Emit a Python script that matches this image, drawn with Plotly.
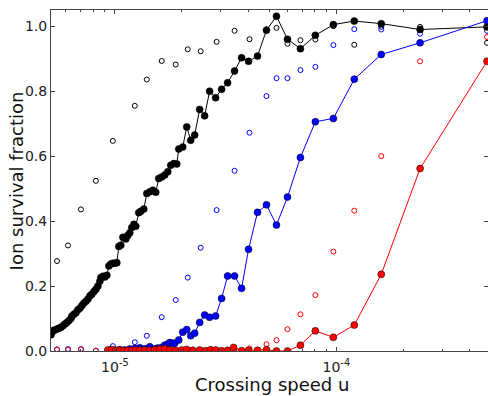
import plotly.graph_objects as go

# ---- data ----
# filled series (lines + markers)
u_black = [5.149e-6, 5.202e-6, 5.256e-6, 5.368e-6, 5.480e-6, 5.595e-6, 5.713e-6, 5.832e-6,
           5.954e-6, 6.079e-6, 6.207e-6, 6.337e-6, 6.403e-6, 6.537e-6, 6.674e-6, 6.814e-6,
           6.957e-6, 7.104e-6, 7.252e-6, 7.404e-6, 7.559e-6, 7.718e-6, 7.879e-6, 8.044e-6,
           8.213e-6, 8.385e-6, 8.561e-6, 8.650e-6, 8.831e-6, 9.016e-6, 9.204e-6, 9.397e-6,
           9.594e-6, 9.795e-6, 1.000e-5, 1.021e-5, 1.042e-5, 1.064e-5, 1.087e-5, 1.121e-5,
           1.144e-5, 1.168e-5, 1.193e-5, 1.218e-5, 1.243e-5, 1.282e-5, 1.309e-5, 1.351e-5,
           1.394e-5, 1.438e-5, 1.483e-5, 1.530e-5, 1.578e-5, 1.628e-5, 1.680e-5, 1.733e-5,
           1.788e-5, 1.844e-5, 1.903e-5, 1.943e-5, 2.025e-5, 2.111e-5, 2.200e-5, 2.293e-5,
           2.415e-5, 2.543e-5, 2.678e-5, 2.851e-5, 3.034e-5, 3.229e-5, 3.471e-5, 3.734e-5,
           4.014e-5, 4.406e-5, 4.837e-5, 5.367e-5, 6.017e-5, 6.883e-5, 8.041e-5, 9.694e-5,
           1.205e-4, 1.595e-4, 2.389e-4, 4.789e-4]
y_black = [0.050, 0.058, 0.063, 0.065, 0.068, 0.070, 0.073, 0.078,
           0.083, 0.088, 0.094, 0.100, 0.108, 0.113, 0.118, 0.127,
           0.132, 0.140, 0.148, 0.153, 0.160, 0.170, 0.175, 0.183,
           0.190, 0.200, 0.215, 0.226, 0.230, 0.228, 0.233, 0.262,
           0.268, 0.270, 0.270, 0.272, 0.322, 0.326, 0.350, 0.345,
           0.356, 0.364, 0.380, 0.390, 0.384, 0.426, 0.430, 0.437,
           0.485, 0.490, 0.495, 0.489, 0.531, 0.536, 0.542, 0.552,
           0.572, 0.577, 0.576, 0.622, 0.628, 0.690, 0.649, 0.665,
           0.744, 0.724, 0.800, 0.780, 0.806, 0.826, 0.862, 0.903,
           0.892, 0.908, 0.988, 1.031, 0.960, 0.931, 0.972, 1.005,
           1.016, 1.008, 0.990, 0.998]

u_blue = [9.495e-6, 1.000e-5, 1.053e-5, 1.109e-5, 1.168e-5, 1.230e-5, 1.296e-5, 1.365e-5,
          1.438e-5, 1.514e-5, 1.562e-5, 1.628e-5, 1.680e-5, 1.733e-5, 1.769e-5, 1.825e-5,
          1.864e-5, 1.943e-5, 2.025e-5, 2.111e-5, 2.200e-5, 2.293e-5, 2.415e-5, 2.543e-5,
          2.678e-5, 2.851e-5, 3.034e-5, 3.229e-5, 3.471e-5, 3.734e-5, 4.014e-5, 4.406e-5,
          4.837e-5, 5.367e-5, 6.017e-5, 6.883e-5, 8.041e-5, 9.694e-5, 1.205e-4, 1.595e-4,
          2.389e-4, 4.789e-4]
y_blue = [0.003, 0.002, 0.004, 0.003, 0.006, 0.008, 0.010, 0.007,
          0.013, 0.006, 0.009, 0.011, 0.018, 0.021, 0.026, 0.024,
          0.024, 0.034, 0.058, 0.066, 0.047, 0.055, 0.088, 0.111,
          0.104, 0.108, 0.162, 0.231, 0.231, 0.193, 0.313, 0.427,
          0.450, 0.388, 0.474, 0.596, 0.706, 0.716, 0.837, 0.913,
          0.949, 1.017]

u_red = [9.300e-6, 9.694e-6, 1.010e-5, 1.053e-5, 1.098e-5, 1.144e-5, 1.193e-5, 1.243e-5,
         1.296e-5, 1.365e-5, 1.438e-5, 1.514e-5, 1.595e-5, 1.680e-5, 1.769e-5, 1.883e-5,
         2.004e-5, 2.111e-5, 2.246e-5, 2.415e-5, 2.570e-5, 2.706e-5, 2.851e-5, 3.034e-5,
         3.229e-5, 3.436e-5, 3.734e-5, 4.014e-5, 4.406e-5, 4.837e-5, 5.367e-5, 6.017e-5,
         6.883e-5, 8.041e-5, 9.694e-5, 1.205e-4, 1.595e-4, 2.389e-4, 4.789e-4]
y_red = [0.003, 0.004, 0.002, 0.003, 0.001, 0.002, 0.002, 0.003,
         0.002, 0.003, 0.002, 0.004, 0.006, 0.007, 0.003, 0.002,
         0.003, 0.005, 0.002, 0.003, 0.001, 0.004, 0.003, 0.001,
         0.002, 0.011, 0.001, 0.002, 0.002, 0.004, 0.000, 0.000,
         0.018, 0.062, 0.042, 0.080, 0.236, 0.562, 0.892]

# open-circle series (markers only)
u_open = [5.480e-6, 6.143e-6, 7.030e-6, 8.213e-6, 9.795e-6, 1.230e-5, 1.394e-5, 1.628e-5,
          1.883e-5, 2.133e-5, 2.440e-5, 2.881e-5, 3.471e-5, 4.056e-5, 4.837e-5, 5.367e-5,
          6.017e-5, 6.883e-5, 8.041e-5, 9.694e-5, 1.205e-4, 1.595e-4, 2.389e-4, 4.789e-4]
y_black_open = [0.277, 0.325, 0.436, 0.524, 0.647, 0.755, 0.836, 0.893,
                0.882, 0.929, 0.923, 0.952, 0.986, 0.960, 0.990, 0.995,
                0.946, 0.957, 0.959, 1.000, 0.943, 0.998, 0.998, 0.949]
y_blue_open = [0.005, 0.006, 0.006, 0.001, 0.015, 0.027, 0.047, 0.104,
               0.157, 0.226, 0.318, 0.434, 0.555, 0.672, 0.785, 0.840,
               0.840, 0.865, 0.875, 0.942, 0.991, 0.990, 0.977, 0.986]
y_red_open = [0.004, 0.004, 0.005, 0.001, 0.002, 0.002, 0.001, 0.002,
              0.002, 0.003, 0.003, 0.004, 0.006, 0.008, 0.021, 0.033,
              0.067, 0.113, 0.172, 0.306, 0.432, 0.600, 0.892, 0.967]

x_tickvals = [1e-5, 1e-4]
x_ticktext = ["10<sup>-5</sup>", "10<sup>-4</sup>"]
y_tickvals = [0.0, 0.2, 0.4, 0.6, 0.8, 1.0]
x_title = "Crossing speed u"
y_title = "Ion survival fraction"

FONT = "DejaVu Sans"

fig = go.Figure()

for yv, col in [(y_black_open, "black"), (y_blue_open, "blue"), (y_red_open, "red")]:
    fig.add_trace(go.Scatter(
        x=u_open, y=yv, mode="markers",
        marker=dict(symbol="circle-open", size=5, color=col, line=dict(width=1, color=col)),
        showlegend=False))

for uv, yv, col in [(u_black, y_black, "black"), (u_blue, y_blue, "blue"), (u_red, y_red, "red")]:
    fig.add_trace(go.Scatter(
        x=uv, y=yv, mode="lines+markers",
        line=dict(color=col, width=1),
        marker=dict(symbol="circle", size=7, color=col, line=dict(width=0.5, color="black")),
        showlegend=False))

fig.update_layout(
    width=488, height=396,
    margin=dict(l=51, r=0, t=10, b=45),
    paper_bgcolor="white", plot_bgcolor="white",
    font=dict(family=FONT, size=14, color="#222222"),
    showlegend=False,
    annotations=[
        dict(text=x_title, xref="paper", yref="paper", x=0.506, y=-0.098,
             xanchor="center", yanchor="middle", showarrow=False,
             font=dict(family=FONT, size=18, color="#111111")),
        dict(text=y_title, xref="paper", yref="paper", x=-0.078, y=0.5,
             xanchor="center", yanchor="middle", textangle=-90, showarrow=False,
             font=dict(family=FONT, size=18, color="#111111")),
    ],
)

fig.update_xaxes(
    type="log", range=[-5.2883, -3.3153],
    tickvals=x_tickvals, ticktext=x_ticktext, ticklabelstandoff=3,
    showline=True, linecolor="#444444", linewidth=1, mirror="ticks",
    ticks="inside", ticklen=4, tickcolor="#444444",
    minor=dict(ticks="inside", ticklen=2, tickcolor="#444444", dtick="D1", showgrid=False),
    showgrid=False, zeroline=False,
    tickfont=dict(family=FONT, size=14, color="#222222"),
)
fig.update_yaxes(
    range=[0, 1.05], tickvals=y_tickvals, tickformat=".1f",
    showline=True, linecolor="#444444", linewidth=1, mirror="ticks",
    ticks="inside", ticklen=4, tickcolor="#444444",
    showgrid=False, zeroline=False,
    tickfont=dict(family=FONT, size=14, color="#222222"),
)

fig.write_html("out.html")
